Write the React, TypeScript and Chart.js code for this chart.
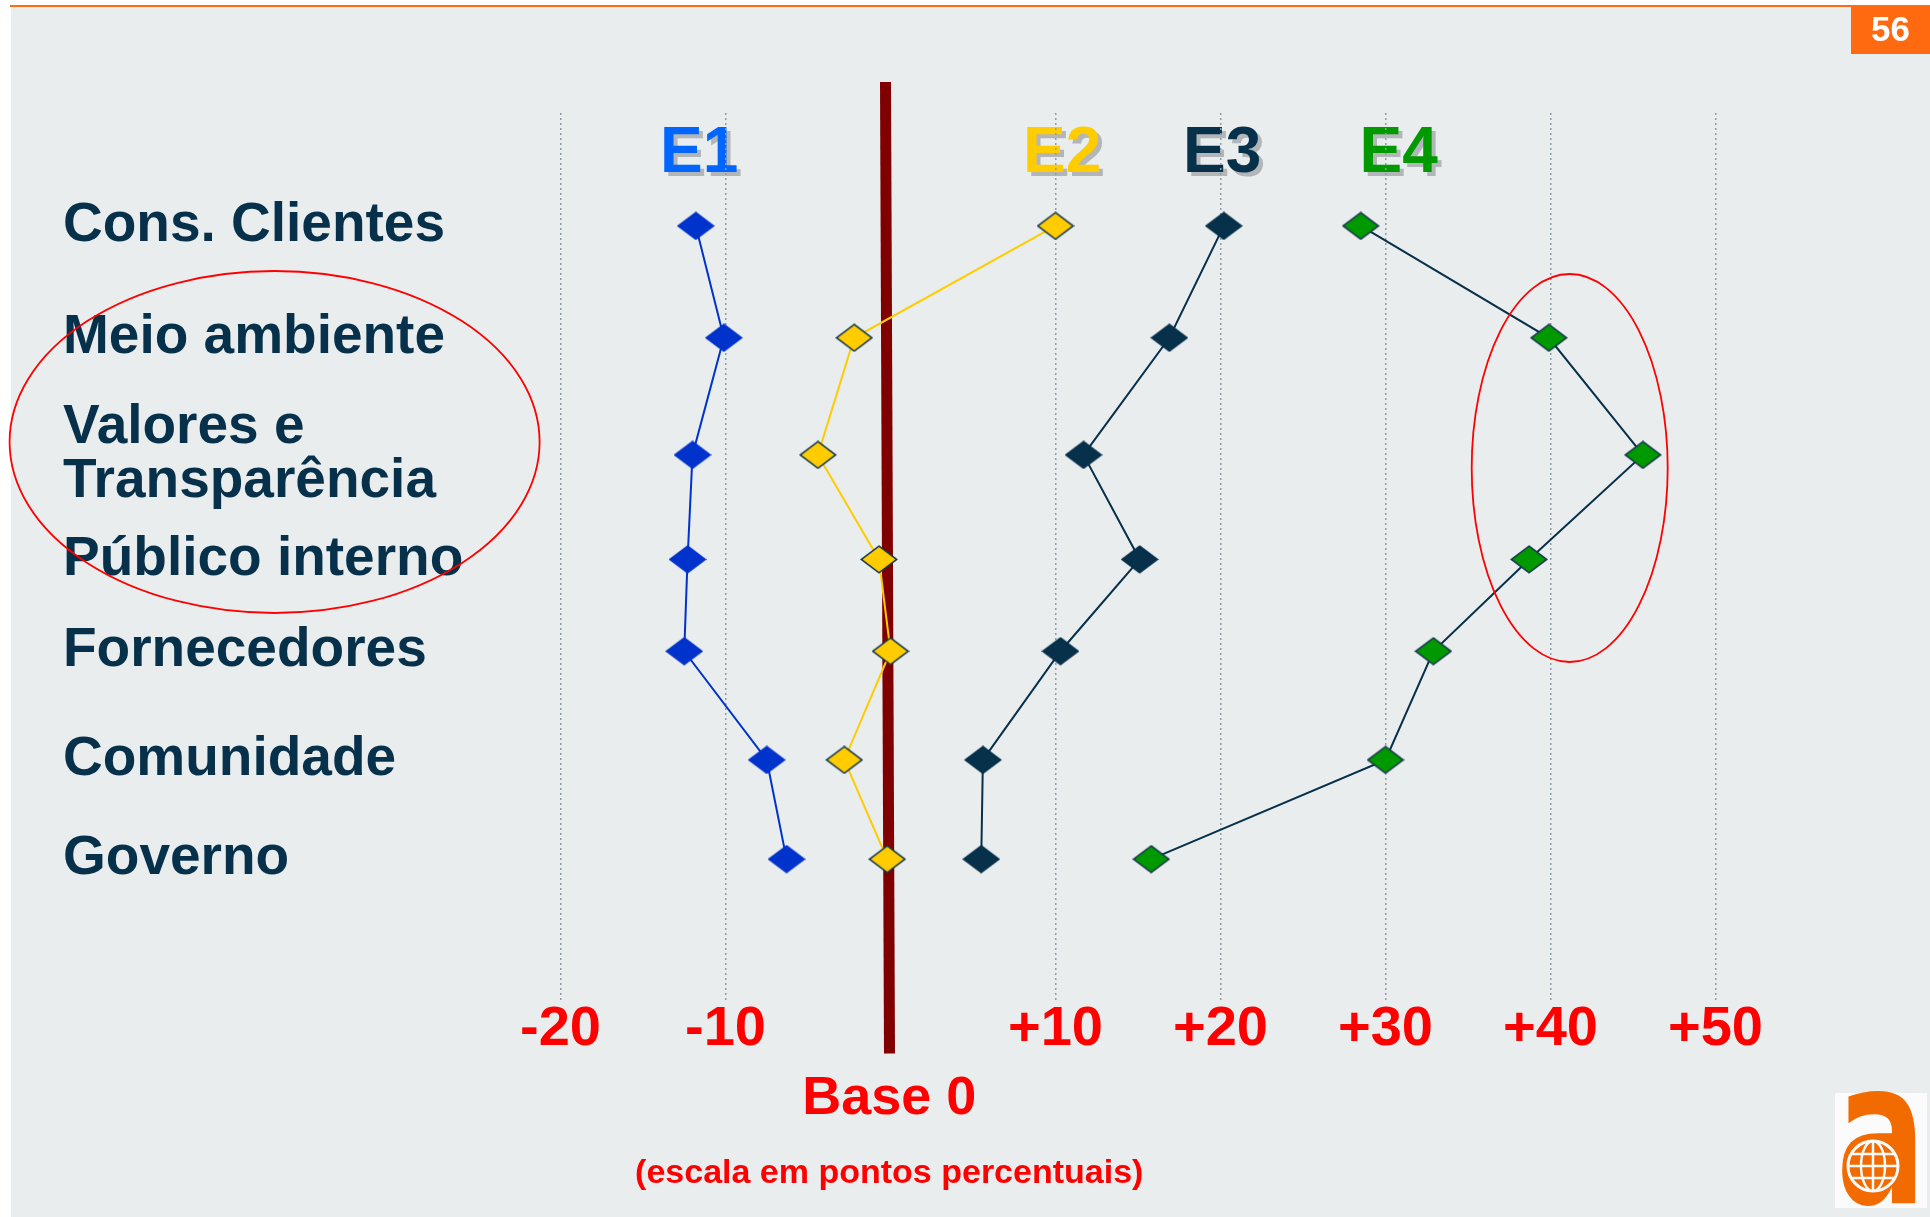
import React, { useEffect, useRef } from 'react';
import { Chart, registerables } from 'chart.js';

Chart.register(...registerables);

// ---------- data ----------
const categories = [
  'Cons. Clientes',
  'Meio ambiente',
  'Valores e\nTransparência',
  'Público interno',
  'Fornecedores',
  'Comunidade',
  'Governo',
];
// vertical level of each row (rows are not evenly spaced in the original slide)
const rowLevels = [0, 1.06, 2.17, 3.16, 4.03, 5.06, 6.0];
const seriesNames = ['E1', 'E2', 'E3', 'E4'];
const e1Values = [-11.8, -10.1, -12.0, -12.3, -12.5, -7.5, -6.3];
const e2Values = [10.0, -2.2, -4.4, -0.7, 0.0, -2.8, -0.2];
const e3Values = [20.2, 16.9, 11.7, 15.1, 10.3, 5.6, 5.5];
const e4Values = [28.5, 39.9, 45.6, 38.7, 32.9, 30.0, 15.8];
const xMin = -20;
const xMax = 50;
const xStep = 10;
const baseTitle = 'Base 0';
const scaleNote = '(escala em pontos percentuais)';
const pageNumber = '56';

// ---------- styles ----------
const W = 1930;
const H = 1217;
const FONT = "'Liberation Sans', Arial, sans-serif";
const NAVY = '#07304a';
const RED = '#FF0000';
const GRID = '#8e9ca8';
const titleColors = ['#0066FF', '#FFCC00', '#07304a', '#009900'];
const titleAt = [-11.6, 10.4, 20.1, 30.8];

function diamond(fill: string, stroke: string, w = 38, h = 29) {
  const c = document.createElement('canvas');
  c.width = w;
  c.height = h;
  const g = c.getContext('2d')!;
  g.beginPath();
  g.moveTo(w / 2, 1.2);
  g.lineTo(w - 1.2, h / 2);
  g.lineTo(w / 2, h - 1.2);
  g.lineTo(1.2, h / 2);
  g.closePath();
  g.fillStyle = fill;
  g.fill();
  g.lineWidth = 1.6;
  g.strokeStyle = stroke;
  g.stroke();
  return c;
}

const slidePlugin = {
  id: 'slide',
  beforeDraw(chart: any) {
    const ctx = chart.ctx;
    const xs = chart.scales.x;
    const area = chart.chartArea;
    ctx.save();
    ctx.fillStyle = '#ffffff';
    ctx.fillRect(0, 0, W, H);
    ctx.fillStyle = '#E9EDEE';
    ctx.fillRect(11, 6, W - 11, H - 6);
    ctx.fillStyle = '#FF6A13';
    ctx.fillRect(10, 5, W - 10, 2);
    // page number box
    ctx.fillStyle = '#FF6A10';
    ctx.fillRect(1851, 7, 79, 47);
    ctx.fillStyle = '#ffffff';
    ctx.font = `bold 35px ${FONT}`;
    ctx.textAlign = 'center';
    ctx.textBaseline = 'middle';
    ctx.fillText(pageNumber, 1890.5, 31);
    // series titles with shadow
    ctx.font = `bold 64px ${FONT}`;
    seriesNames.forEach((name, i) => {
      const x = xs.getPixelForValue(titleAt[i]);
      const y = area.top + 41;
      ctx.fillStyle = '#b2b6b9';
      ctx.fillText(name, x + 4, y + 4);
      ctx.fillStyle = titleColors[i];
      ctx.fillText(name, x, y);
    });
    // logo
    ctx.fillStyle = '#FBFBFB';
    ctx.fillRect(1835, 1093, 92, 115);
    ctx.save();
    ctx.translate(1881, 1203);
    ctx.scale(0.66, 1);
    ctx.font = "bold 200px 'DejaVu Sans'";
    ctx.fillStyle = '#F26B00';
    ctx.textAlign = 'center';
    ctx.textBaseline = 'alphabetic';
    ctx.fillText('a', 0, 0);
    ctx.restore();
    const gx = 1873;
    const gy = 1166;
    const gr = 25;
    ctx.beginPath();
    ctx.arc(gx, gy, gr, 0, Math.PI * 2);
    ctx.fillStyle = '#F26B00';
    ctx.fill();
    ctx.lineWidth = 3;
    ctx.strokeStyle = '#FBFBFB';
    ctx.stroke();
    ctx.save();
    ctx.beginPath();
    ctx.arc(gx, gy, gr, 0, Math.PI * 2);
    ctx.clip();
    ctx.lineWidth = 2.5;
    ctx.beginPath();
    [-12, 0, 12].forEach((d) => {
      ctx.moveTo(gx - gr, gy + d);
      ctx.lineTo(gx + gr, gy + d);
    });
    ctx.moveTo(gx, gy - gr);
    ctx.lineTo(gx, gy + gr);
    ctx.stroke();
    ctx.beginPath();
    ctx.ellipse(gx, gy, 12, gr, 0, 0, Math.PI * 2);
    ctx.stroke();
    ctx.restore();
    ctx.restore();
  },
  beforeDatasetsDraw(chart: any) {
    const ctx = chart.ctx;
    const x0 = chart.scales.x.getPixelForValue(0);
    const area = chart.chartArea;
    ctx.save();
    ctx.strokeStyle = '#800000';
    ctx.lineWidth = 11;
    ctx.beginPath();
    ctx.moveTo(x0 - 5, area.top - 31);
    ctx.lineTo(x0 - 1, area.bottom + 54);
    ctx.stroke();
    ctx.restore();
  },
  afterDraw(chart: any) {
    const ctx = chart.ctx;
    ctx.save();
    ctx.strokeStyle = '#FF0000';
    ctx.lineWidth = 1.8;
    ctx.beginPath();
    ctx.ellipse(274.6, 442, 265, 171, 0, 0, Math.PI * 2);
    ctx.stroke();
    ctx.beginPath();
    ctx.ellipse(1569.7, 468, 98, 194, 0, 0, Math.PI * 2);
    ctx.stroke();
    ctx.restore();
  },
};

export default function App() {
  const ref = useRef<HTMLCanvasElement | null>(null);

  useEffect(() => {
    document.body.style.margin = '0';
    const canvas = ref.current;
    if (!canvas) return;

    const series = [
      { values: e1Values, line: '#0033CC', fill: '#0033CC', stroke: '#0033CC' },
      { values: e2Values, line: '#FFCC00', fill: '#FFCC00', stroke: '#17394d' },
      { values: e3Values, line: '#07304a', fill: '#07304a', stroke: '#07304a' },
      { values: e4Values, line: '#07304a', fill: '#009900', stroke: '#17394d' },
    ];

    const chart = new Chart(canvas, {
      type: 'scatter',
      data: {
        datasets: series.map((s, k) => ({
          label: seriesNames[k],
          data: s.values.map((v, i) => ({ x: v, y: rowLevels[i] })),
          showLine: true,
          borderColor: s.line,
          borderWidth: 2,
          backgroundColor: s.fill,
          pointStyle: diamond(s.fill, s.stroke),
          pointRadius: 12,
          tension: 0,
          clip: false,
        })),
      },
      options: {
        responsive: false,
        animation: false,
        devicePixelRatio: 1,
        events: [],
        layout: { padding: { left: 63, right: 214.5, top: 113, bottom: 26.5 } },
        plugins: {
          legend: { display: false },
          tooltip: { enabled: false },
          subtitle: {
            display: true,
            position: 'bottom',
            text: baseTitle,
            color: RED,
            font: { family: FONT, size: 54, weight: 'bold', lineHeight: 1 },
            padding: { top: 19, bottom: 0 },
          },
          title: {
            display: true,
            position: 'bottom',
            text: scaleNote,
            color: RED,
            font: { family: FONT, size: 34, weight: 'bold', lineHeight: 1 },
            padding: { top: 30, bottom: 0 },
          },
        },
        scales: {
          x: {
            type: 'linear',
            min: xMin,
            max: xMax,
            afterFit: (s: any) => {
              s.height = 54;
            },
            ticks: {
              stepSize: xStep,
              autoSkip: false,
              maxRotation: 0,
              padding: 2,
              color: RED,
              font: { family: FONT, size: 56, weight: 'bold', lineHeight: 1 },
              callback: (v: any) => (v === 0 ? '' : v > 0 ? '+' + v : String(v)),
            },
            grid: {
              drawTicks: false,
              lineWidth: 1.5,
              color: (c: any) => (c.tick && c.tick.value === 0 ? 'rgba(0,0,0,0)' : GRID),
            },
            border: { display: false, dash: [2, 3] },
          },
          y: {
            type: 'linear',
            reverse: true,
            min: -1.07,
            max: 7.33,
            afterBuildTicks: (s: any) => {
              s.ticks = rowLevels.map((v) => ({ value: v }));
            },
            afterFit: (s: any) => {
              s.width = 497.5;
            },
            ticks: {
              autoSkip: false,
              crossAlign: 'far',
              padding: 0,
              color: NAVY,
              font: { family: FONT, size: 55, weight: 'bold', lineHeight: 0.97 },
              callback: (_v: any, index: number) => {
                const label = categories[index];
                return label ? label.split('\n') : '';
              },
            },
            grid: { display: false, drawTicks: false },
            border: { display: false },
          },
        },
      } as any,
      plugins: [slidePlugin],
    });

    return () => chart.destroy();
  }, []);

  return (
    <div style={{ width: W, height: H }}>
      <canvas ref={ref} width={W} height={H} style={{ display: 'block' }} />
    </div>
  );
}
